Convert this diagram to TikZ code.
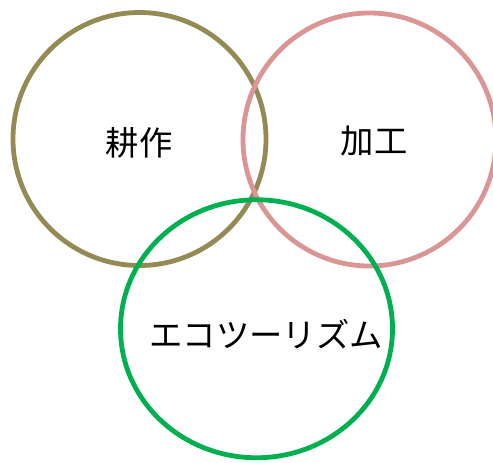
\documentclass[tikz,border=0pt]{standalone}
\usepackage{fontspec}
\newfontfamily\jpfont{Noto Sans CJK JP}
\usetikzlibrary{shapes.geometric}
\definecolor{olivering}{HTML}{948A54}
\definecolor{rosering}{HTML}{D99694}
\definecolor{greenring}{HTML}{00B050}
\begin{document}
\begin{tikzpicture}
                        [x=0.75pt, y=-0.75pt,
                        ring/.style={draw, line width=3.6pt, circle, inner sep=0pt, minimum size=189.75pt},
                        lbl/.style={font=\jpfont\fontsize{25}{30}\selectfont}]
                        %Rahmen
                        \useasboundingbox (0,0) rectangle (493,462);
                        \clip (0,0) rectangle (493,462);
                        %Kreise
                        \node [ring, color=olivering] (Kos) at (139.5,139) {};
                        \node [ring, color=rosering] (Kak) at (369.5,139.5) {};
                        \node [ring, ellipse, color=greenring, minimum width=204pt, minimum height=193.5pt] (Eco) at (256.5,328.75) {};
                        %Beschriftungen
                        \node [lbl] (KosText) at (139,142.5) {耕作};
                        \node [lbl] (KakText) at (374,141.5) {加工};
                        \node [lbl] (EcoText) at (266,334.5) {エコツーリズム};
                \end{tikzpicture}
\end{document}
